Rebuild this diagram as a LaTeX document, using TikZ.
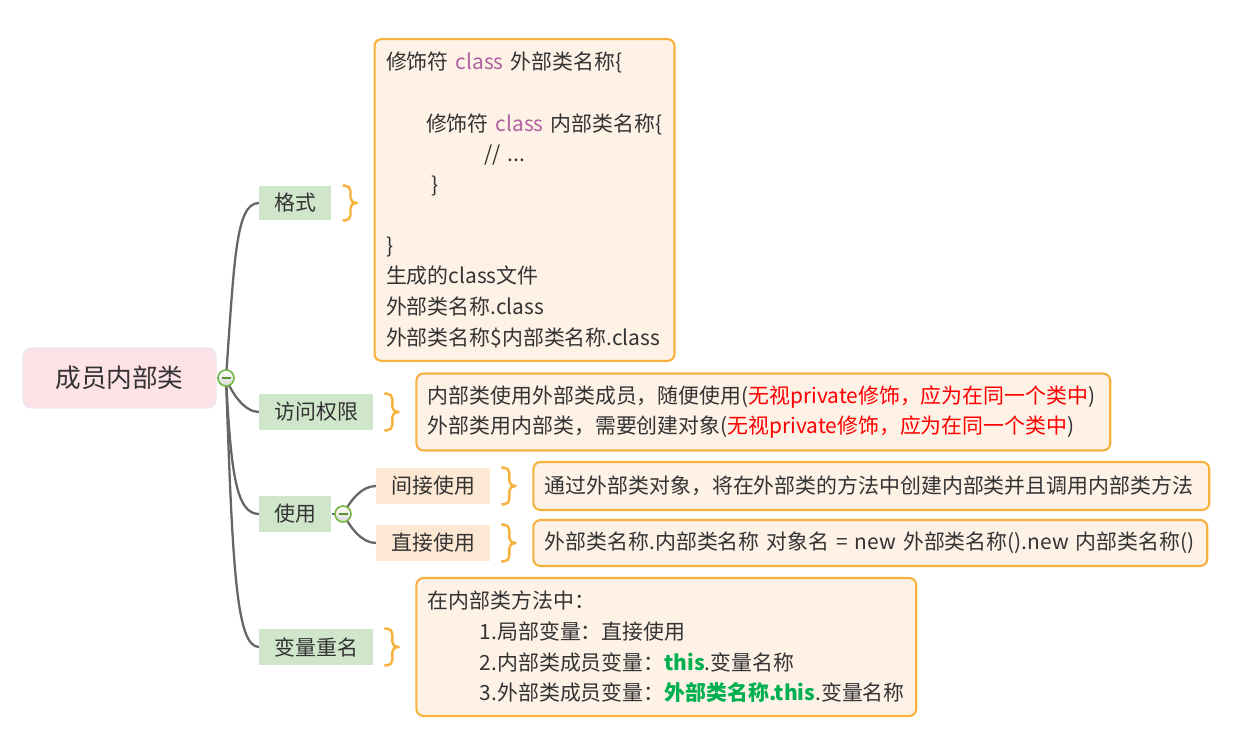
\documentclass[tikz,border=0pt]{standalone}
\usepackage{fontspec}
\setmainfont{Noto Sans CJK SC}
\usetikzlibrary{positioning, calc, backgrounds}
\definecolor{inkgray}{HTML}{333333}
\definecolor{linegray}{HTML}{666666}
\definecolor{rootfill}{HTML}{FDE2E7}
\definecolor{rootborder}{HTML}{ECE3F0}
\definecolor{tagfill}{HTML}{CFE6CA}
\definecolor{subfill}{HTML}{FDE8D3}
\definecolor{notefill}{HTML}{FEF1E6}
\definecolor{noteborder}{HTML}{F6B23E}
\definecolor{keyword}{HTML}{B0619F}
\definecolor{warnred}{HTML}{FF0000}
\definecolor{okgreen}{HTML}{00B050}
\definecolor{foldgreen}{HTML}{72B73F}
\tikzset{
  rootblock/.style={
    rectangle, rounded corners=5pt, draw=rootborder, fill=rootfill, line width=0.8pt,
    minimum width=3.86cm, minimum height=1.2cm, text=inkgray,
    font=\fontsize{14.6}{17}\selectfont
  },
  tagblock/.style={
    rectangle, fill=tagfill, minimum height=0.72cm, inner xsep=0.3cm, text=inkgray,
    font=\fontsize{11.9}{14}\selectfont
  },
  subblock/.style={tagblock, fill=subfill},
  noteblock/.style={
    rectangle, rounded corners=4pt, draw=noteborder, fill=notefill, line width=1.2pt,
    align=left, inner xsep=0.23cm, inner ysep=0.1cm, text=inkgray,
    font=\fontsize{11.9}{17.4}\selectfont
  },
  branchline/.style={draw=linegray, line width=1.3pt},
  bracepath/.style={draw=noteborder, line width=1.4pt, rounded corners=3pt},
  foldmark/.style={
    circle, draw=foldgreen, line width=0.9pt, top color=white, bottom color=gray!30,
    minimum size=0.32cm, inner sep=0pt,
    path picture={\draw[foldgreen!80!black, line width=1pt]
      ([xshift=-0.09cm]path picture bounding box.center) -- ([xshift=0.09cm]path picture bounding box.center);}
  }
}

\begin{document}
\begin{tikzpicture}[x=0.02cm, y=-0.02cm]
  \useasboundingbox (0,0) rectangle (1244,750);

  % Root topic
  \node[rootblock] (root_node) at (119.5,378) {成员内部类};
  \node[foldmark] (root_fold) at (226,378) {};

  % Main branches
  \node[tagblock, anchor=west, minimum height=0.68cm] (format_tag) at (259,203) {格式};
  \node[tagblock, anchor=west] (access_tag) at (259,412) {访问权限};
  \node[tagblock, anchor=west] (use_tag) at (259,514) {使用};
  \node[tagblock, anchor=west] (rename_tag) at (259,647) {变量重名};
  \node[foldmark] (use_fold) at (343,514) {};

  % Sub branches of use
  \node[subblock, anchor=west] (indirect_tag) at (376,486) {间接使用};
  \node[subblock, anchor=west] (direct_tag) at (376,543) {直接使用};

  % Notes
  \node[noteblock, right=0.84cm of format_tag, yshift=0.06cm, text width=5.54cm, minimum height=6.44cm] (format_box) {
    修饰符 {\color{keyword}class} 外部类名称\{\\
    \mbox{}\\
    \hspace*{0.8cm}修饰符 {\color{keyword}class} 内部类名称\{\\
    \hspace*{1.96cm}// ...\\
    \hspace*{0.9cm}\}\\
    \mbox{}\\
    \}\\
    生成的class文件\\
    外部类名称.class\\
    外部类名称\$内部类名称.class
  };

  \node[noteblock, right=0.84cm of access_tag, text width=13.42cm, minimum height=1.54cm] (access_box) {
    内部类使用外部类成员，随便使用({\color{warnred}无视private修饰，应为在同一个类中})\\
    外部类用内部类，需要创建对象({\color{warnred}无视private修饰，应为在同一个类中})
  };

  \node[noteblock, right=0.84cm of indirect_tag, text width=13.06cm, minimum height=0.96cm] (indirect_box) {
    通过外部类对象，将在外部类的方法中创建内部类并且调用内部类方法
  };

  \node[noteblock, right=0.84cm of direct_tag, text width=13.02cm, minimum height=0.92cm] (direct_box) {
    外部类名称.内部类名称 对象名 = new 外部类名称().new 内部类名称()
  };

  \node[noteblock, right=0.84cm of rename_tag, text width=9.54cm, minimum height=2.76cm] (rename_box) {
    在内部类方法中：\\
    \hspace*{1.04cm}1.局部变量：直接使用\\
    \hspace*{1.04cm}2.内部类成员变量：{\bfseries\color{okgreen}this}.变量名称\\
    \hspace*{1.04cm}3.外部类成员变量：{\bfseries\color{okgreen}外部类名称.this}.变量名称
  };

  % Braces
  \foreach \tag in {format_tag,access_tag,indirect_tag,direct_tag,rename_tag} {
    \draw[bracepath] ([xshift=0.22cm]\tag.north east) -- ++(8,0) |- ([xshift=0.52cm]\tag.east);
    \draw[bracepath] ([xshift=0.22cm]\tag.south east) -- ++(8,0) |- ([xshift=0.52cm]\tag.east);
  }

  % Connectors
  \begin{scope}[on background layer]
    \draw[branchline] (root_node.east) -- (root_fold.center);
    \draw[branchline] (root_fold.center) to[out=86, in=180, out distance=2.44cm, in distance=0.46cm] (format_tag.west);
    \draw[branchline] (root_fold.center) to[out=-70, in=180, out distance=0.3cm, in distance=0.3cm] (access_tag.west);
    \draw[branchline] (root_fold.center) to[out=-87, in=180, out distance=1.9cm, in distance=0.46cm] (use_tag.west);
    \draw[branchline] (root_fold.center) to[out=-88, in=180, out distance=3.76cm, in distance=0.46cm] (rename_tag.west);
    \draw[branchline] (use_tag.east) -- (use_fold.center);
    \draw[branchline] (use_fold.center) to[out=60, in=180, out distance=0.3cm, in distance=0.3cm] (indirect_tag.west);
    \draw[branchline] (use_fold.center) to[out=-60, in=180, out distance=0.3cm, in distance=0.3cm] (direct_tag.west);
  \end{scope}

\end{tikzpicture}
\end{document}
